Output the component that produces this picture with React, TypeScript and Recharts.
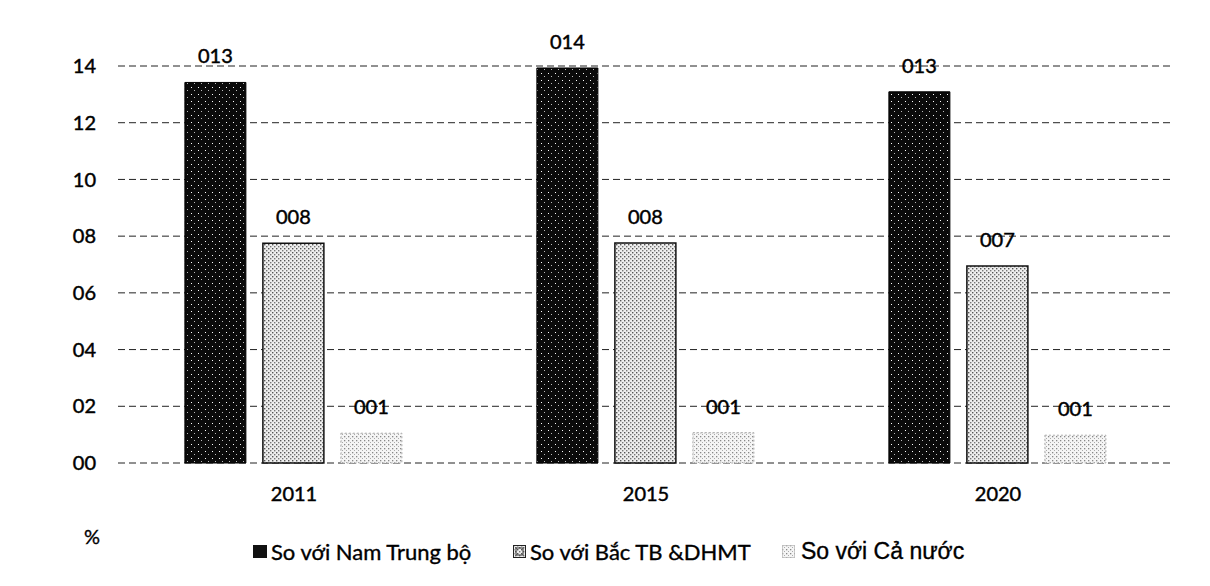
import React from "react";
import { BarChart, Bar, XAxis, YAxis, CartesianGrid, LabelList, Legend } from "recharts";

const categories = ["2011", "2015", "2020"];
const namTrungBo = [13.42, 13.93, 13.09];
const bacTB = [7.75, 7.76, 6.95];
const caNuoc = [1.05, 1.07, 0.98];
const yTicks = [0, 2, 4, 6, 8, 10, 12, 14];
const seriesNames = ["So với Nam Trung bộ", "So với Bắc TB &DHMT", "So với Cả nước"];

const data = categories.map((c, i) => ({
  year: c,
  a: namTrungBo[i],
  b: bacTB[i],
  c: caNuoc[i],
}));

const fmt2 = (v: number) => String(v).padStart(2, "0");
const fmtLabel = (v: any) => "0" + String(Math.round(Number(v))).padStart(2, "0");

const FONT = "Lato, 'Open Sans', sans-serif";
const ARIAL = "'Liberation Sans', Arial, sans-serif";
const svgText = { fill: "#000", fontSize: 20, fontFamily: FONT, stroke: "#000", strokeWidth: 0.45 };

const itemStyle = (left: number): React.CSSProperties => ({
  position: "absolute",
  left,
  top: 0,
  height: 30,
  display: "flex",
  alignItems: "center",
  whiteSpace: "nowrap",
  WebkitTextStroke: "0.35px #000",
});

const LegendContent = () => (
  <div style={{ position: "relative", width: 1210, height: 30, color: "#000" }}>
    <span style={{ ...itemStyle(253), fontFamily: FONT, fontSize: 22 }}>
      <svg width={14} height={13} style={{ marginRight: 4 }}>
        <rect x={0} y={0} width={14} height={13} fill="#111" />
      </svg>
      {seriesNames[0]}
    </span>
    <span style={{ ...itemStyle(513), fontFamily: FONT, fontSize: 22 }}>
      <svg width={13} height={13} style={{ marginRight: 4 }}>
        <rect x={0.5} y={0.5} width={12} height={12} fill="url(#patB)" stroke="#222" strokeWidth={1} />
        <rect x={3} y={3} width={7} height={7} fill="none" stroke="#333" strokeWidth={1} />
      </svg>
      {seriesNames[1]}
    </span>
    <span style={{ ...itemStyle(782), fontFamily: ARIAL, fontSize: 23 }}>
      <svg width={13} height={13} style={{ marginRight: 6 }}>
        <rect x={0.5} y={0.5} width={12} height={12} fill="url(#patC)" stroke="#999" strokeDasharray="1 1" />
      </svg>
      {seriesNames[2]}
    </span>
  </div>
);

export default function App() {
  return (
    <div style={{ position: "absolute", left: 0, top: 0, width: 1210, height: 586, background: "#fff" }}>
      <BarChart
        width={1210}
        height={586}
        data={data}
        margin={{ top: 66, right: 36, bottom: 0, left: 0 }}
        barCategoryGap="19%"
        barGap={17}
      >
        <defs>
          <pattern id="patA" width="7" height="7" patternUnits="userSpaceOnUse">
            <rect width="7" height="7" fill="#0a0a0a" />
            <rect x="2" y="3" width="1" height="1" fill="#fff" />
            <rect x="5" y="6" width="1" height="1" fill="#bbb" />
          </pattern>
          <pattern id="patB" width="4" height="4" patternUnits="userSpaceOnUse">
            <rect width="4" height="4" fill="#eeeeee" />
            <rect x="0" y="0" width="1.4" height="1.4" fill="#555" />
            <rect x="2" y="2" width="1.4" height="1.4" fill="#777" />
          </pattern>
          <pattern id="patC" width="4" height="4" patternUnits="userSpaceOnUse">
            <rect width="4" height="4" fill="#f5f5f5" />
            <rect x="0" y="0" width="1.3" height="1.3" fill="#888" />
            <rect x="2" y="2" width="1" height="1" fill="#aaa" />
          </pattern>
        </defs>
        <CartesianGrid vertical={false} stroke="#222" strokeDasharray="7 4" />
        <XAxis
          dataKey="year"
          axisLine={false}
          tickLine={false}
          tickMargin={18}
          height={93}
          tick={svgText}
        />
        <YAxis
          domain={[0, 14]}
          ticks={yTicks}
          axisLine={false}
          tickLine={false}
          width={118}
          tickMargin={16}
          tickFormatter={fmt2}
          tick={svgText}
        />
        <Legend
          content={<LegendContent />}
          wrapperStyle={{ position: "absolute", left: 0, top: 536, width: 1210, height: 30 }}
        />
        <Bar dataKey="a" name={seriesNames[0]} fill="url(#patA)" stroke="#000" strokeWidth={1} isAnimationActive={false}>
          <LabelList dataKey="a" position="top" offset={19} formatter={fmtLabel} style={svgText} />
        </Bar>
        <Bar dataKey="b" name={seriesNames[1]} fill="url(#patB)" stroke="#111" strokeWidth={1.5} isAnimationActive={false}>
          <LabelList dataKey="b" position="top" offset={19} formatter={fmtLabel} style={svgText} />
        </Bar>
        <Bar dataKey="c" name={seriesNames[2]} fill="url(#patC)" stroke="#aaa" strokeDasharray="2 2" strokeWidth={1} isAnimationActive={false}>
          <LabelList dataKey="c" position="top" offset={19} formatter={fmtLabel} style={svgText} />
        </Bar>
      </BarChart>
      <div
        style={{
          position: "absolute",
          left: 84,
          top: 524,
          fontFamily: FONT,
          fontSize: 20,
          color: "#000",
          WebkitTextStroke: "0.35px #000",
        }}
      >
        %
      </div>
    </div>
  );
}
